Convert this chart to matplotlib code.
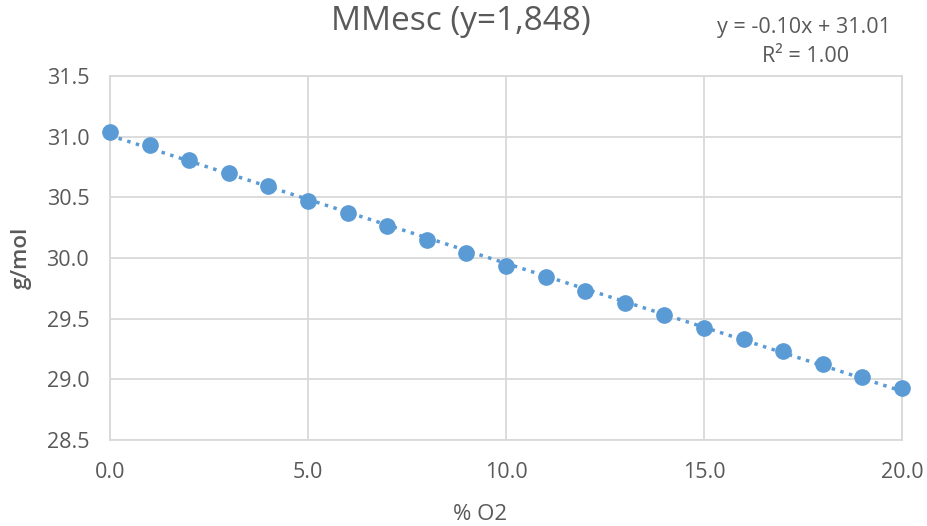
import matplotlib
matplotlib.use("Agg")
import matplotlib.pyplot as plt
import numpy as np

plt.rcParams['font.family'] = ['Open Sans', 'DejaVu Sans']

o2 = [0, 1, 2, 3, 4, 5, 6, 7, 8, 9, 10, 11, 12, 13, 14, 15, 16, 17, 18, 19, 20]
mm = [31.04, 30.93, 30.81, 30.70, 30.59, 30.47, 30.37, 30.26, 30.15, 30.04,
      29.93, 29.84, 29.73, 29.63, 29.53, 29.42, 29.33, 29.23, 29.13, 29.02, 28.93]
xticks = [0.0, 5.0, 10.0, 15.0, 20.0]
yticks = [28.5, 29.0, 29.5, 30.0, 30.5, 31.0, 31.5]

gray = '#595959'
blue = '#5B9BD5'

fig = plt.figure(figsize=(9.27, 5.26), dpi=100)
ax = fig.add_axes([0.1187, 0.1635, 0.973 - 0.1187, 0.8555 - 0.1635])

coef = np.polyfit(o2, mm, 1)
xs = np.array([min(o2), max(o2)])
ax.plot(xs, np.polyval(coef, xs), linestyle=(0, (1, 1.6)), color=blue, linewidth=2.5, zorder=2)
ax.plot(o2, mm, 'o', color=blue, markersize=11, zorder=3, clip_on=False)

ax.set_xlim(0, 20)
ax.set_ylim(28.5, 31.5)
ax.set_xticks(xticks)
ax.set_xticklabels([f"{v:.1f}" for v in xticks])
ax.set_yticks(yticks)
ax.set_yticklabels([f"{v:.1f}" for v in yticks])
ax.grid(True, color='#d9d9d9', linewidth=1.3)
ax.set_axisbelow(True)
for s in ax.spines.values():
    s.set_color('#d9d9d9')
    s.set_linewidth(1.3)
ax.tick_params(axis='y', length=0, labelsize=15.5, labelcolor=gray, pad=15)
ax.tick_params(axis='x', length=0, labelsize=15.5, labelcolor=gray, pad=16)

fig.text(480 / 927, 1 - 515 / 526, '% O2', ha='center', va='center', fontsize=16, color=gray)
fig.text(21 / 927, 1 - 258 / 526, 'g/mol', ha='center', va='center', fontsize=16,
         color=gray, rotation=90, fontweight='semibold')

fig.text(461 / 927, 1 - 22 / 526, 'MMesc (y=1,848)', ha='center', va='center', fontsize=24, color=gray)
fig.text(804 / 927, 1 - 27 / 526, 'y = -0.10x + 31.01', ha='center', va='center', fontsize=15.5, color=gray)
fig.text(806 / 927, 1 - 56 / 526, 'R² = 1.00', ha='center', va='center', fontsize=15.5, color=gray)

fig.savefig('out.png', dpi=100)
